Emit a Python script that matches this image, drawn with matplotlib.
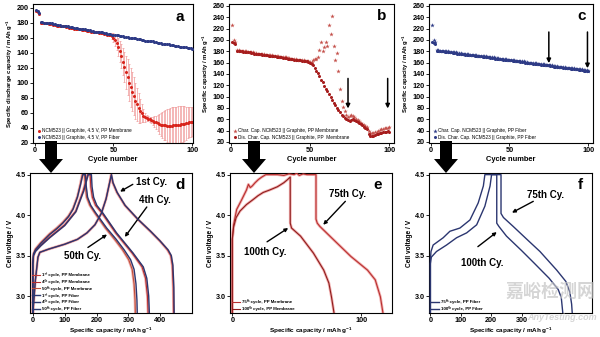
import numpy as np
import matplotlib
matplotlib.use("Agg")
import matplotlib.pyplot as plt
from matplotlib.patches import FancyArrow
from matplotlib.ticker import FormatStrFormatter

plt.rcParams['font.family'] = ['Liberation Sans', 'DejaVu Sans']
plt.rcParams['font.weight'] = 'bold'
plt.rcParams['axes.labelweight'] = 'bold'
plt.rcParams['mathtext.default'] = 'regular'
plt.rcParams['axes.linewidth'] = 0.8

# ---------------- cycling data (cycle 1..100) ----------------
cycles = np.arange(1, 101)

# discharge capacity, NCM523 || graphite with PP fiber separator
fiber_dis = [197, 195, 193, 181, 181, 180, 180, 180, 179, 179,
             179, 178, 178, 177, 177, 177, 176, 176, 176, 175,
             175, 174, 174, 174, 173, 173, 173, 172, 172, 171,
             171, 171, 170, 170, 170, 169, 169, 168, 168, 168,
             167, 167, 167, 166, 166, 165, 165, 165, 164, 164,
             164, 163, 163, 162, 162, 162, 161, 161, 161, 160,
             160, 159, 159, 159, 158, 158, 158, 157, 157, 156,
             156, 156, 155, 155, 155, 154, 154, 153, 153, 153,
             152, 152, 152, 151, 151, 150, 150, 150, 149, 149,
             149, 148, 148, 147, 147, 147, 146, 146, 146, 145]

# charge capacity, PP fiber separator
fiber_char = [226, 199, 196, 182, 182, 181, 181, 181, 180, 180,
              180, 179, 179, 178, 178, 178, 177, 177, 177, 176,
              176, 175, 175, 175, 174, 174, 174, 173, 173, 172,
              172, 172, 171, 171, 171, 170, 170, 169, 169, 169,
              168, 168, 168, 167, 167, 166, 166, 166, 165, 165,
              165, 164, 164, 163, 163, 163, 162, 162, 162, 161,
              161, 160, 160, 160, 159, 159, 159, 158, 158, 157,
              157, 157, 156, 156, 156, 155, 155, 154, 154, 154,
              153, 153, 153, 152, 152, 151, 151, 151, 150, 150,
              150, 149, 149, 148, 148, 148, 147, 147, 147, 146]

# mean discharge capacity with PP membrane and its spread
membrane_mean = [196, 194, 192, 180, 180, 179, 179, 179, 178, 178,
                 178, 177, 177, 176, 176, 176, 175, 175, 175, 174,
                 174, 173, 173, 173, 172, 172, 172, 171, 171, 170,
                 170, 170, 169, 169, 169, 168, 168, 167, 167, 167,
                 166, 166, 166, 165, 165, 164, 164, 164, 162, 160,
                 157, 153, 148, 142, 135, 128, 121, 114, 107, 100,
                 94, 88, 82, 76, 71, 66, 62, 59, 56, 54,
                 53, 52, 51, 50, 49, 48, 47, 46, 45, 44,
                 43.5, 43, 43, 42.5, 42.5, 42.5, 42.5, 43, 43, 43,
                 43.5, 44, 44.5, 45, 45.5, 46, 46.5, 47, 47.5, 48]
membrane_err = [0, 0, 0, 0, 0, 0, 0, 0, 0, 0,
                0, 0, 0, 0, 0, 0, 0, 0, 0, 0,
                0, 0, 0, 0, 0, 0, 0, 0, 0, 0,
                0, 0, 0, 0, 0, 0, 0, 0, 0, 0,
                0, 0, 0, 0, 0, 0, 1, 2, 4, 6,
                8, 10, 12, 14, 16, 18, 20, 22, 24, 25,
                26, 26, 25, 24, 22, 20, 16, 12, 9, 6,
                4, 3, 3, 4, 5, 7, 9, 11, 13, 15,
                17, 19, 20, 22, 23, 24, 25, 25, 25, 25,
                25, 25, 24, 24, 23, 22, 21, 20, 20, 19]

# single PP membrane cell: charge / discharge capacity
memb_dis = [197, 195, 193, 181, 181, 180, 180, 179, 179, 179,
            178, 178, 177, 177, 176, 176, 175, 175, 175, 174,
            174, 173, 173, 172, 172, 172, 171, 171, 170, 170,
            169, 169, 168, 168, 168, 167, 167, 166, 166, 165,
            165, 164, 164, 164, 163, 163, 162, 162, 161, 160,
            158, 155, 151, 146, 141, 136, 130, 125, 119, 114,
            109, 104, 99, 94, 89, 85, 80, 76, 72, 68,
            65, 62, 60, 58, 57, 58, 60, 59, 57, 55,
            53, 51, 49, 47, 45, 42, 34, 31, 30, 31,
            32, 33, 34, 35, 36, 37, 38, 38, 39, 38]
memb_char = [226, 199, 196, 182, 182, 181, 181, 180, 180, 180,
             179, 179, 178, 178, 177, 177, 176, 176, 176, 175,
             175, 174, 174, 173, 173, 173, 172, 172, 171, 171,
             170, 170, 169, 169, 169, 168, 168, 167, 167, 166,
             166, 165, 165, 165, 164, 164, 163, 163, 162, 161,
             161, 164, 166, 167, 169, 182, 196, 181, 188, 197,
             189, 226, 211, 242, 189, 164, 177, 145, 114, 93,
             82, 74, 68, 64, 66, 68, 66, 64, 61, 59,
             56, 54, 52, 50, 48, 46, 40, 36, 35, 36,
             37, 38, 40, 41, 42, 43, 44, 45, 45, 46]

# ---------------- voltage profiles (capacity mAh/g, voltage V) ----------------
# panel d
fib1_q = [0, 8, 16, 22, 50, 100, 140, 170, 195, 215, 230, 240, 247,
          252, 265, 290, 330, 370, 400, 425, 435, 440, 443, 444]
fib1_v = [2.79, 3.20, 3.48, 3.54, 3.58, 3.64, 3.70, 3.78, 3.88, 4.02, 4.20, 4.38, 4.50,
          4.40, 4.28, 4.12, 3.95, 3.80, 3.68, 3.57, 3.50, 3.38, 3.10, 2.79]
mem1_q = [0, 8, 16, 22, 50, 100, 140, 170, 195, 215, 230, 240, 246,
          251, 264, 289, 329, 369, 399, 423, 433, 438, 441, 442]
mem1_v = [2.79, 3.20, 3.48, 3.54, 3.58, 3.64, 3.70, 3.78, 3.88, 4.02, 4.20, 4.38, 4.50,
          4.40, 4.28, 4.12, 3.95, 3.80, 3.68, 3.57, 3.50, 3.38, 3.10, 2.79]
fib4_q = [0, 0, 2, 8, 25, 53, 100, 135, 160, 174, 184,
          186, 191, 201, 221, 263, 315, 347, 358, 364, 366]
fib4_v = [2.79, 3.40, 3.50, 3.55, 3.62, 3.72, 3.87, 4.04, 4.30, 4.50, 4.50,
          4.35, 4.22, 4.12, 4.02, 3.78, 3.53, 3.36, 3.22, 3.00, 2.79]
mem4_q = [0, 0, 2, 8, 25, 53, 100, 135, 158, 172, 180,
          182, 187, 197, 218, 260, 312, 343, 354, 360, 362]
mem4_v = [2.79, 3.40, 3.50, 3.56, 3.63, 3.73, 3.88, 4.05, 4.30, 4.50, 4.50,
          4.35, 4.22, 4.12, 4.02, 3.78, 3.53, 3.36, 3.22, 3.00, 2.79]
fib50_q = [0, 0, 2, 8, 25, 53, 75, 94, 112, 126, 140, 150, 157, 165,
           168, 172, 182, 197, 232, 262, 287, 307, 318, 324, 327, 328]
fib50_v = [2.79, 3.40, 3.52, 3.57, 3.65, 3.76, 3.83, 3.90, 3.98, 4.07, 4.22, 4.38, 4.50, 4.50,
           4.35, 4.22, 4.12, 4.03, 3.84, 3.70, 3.57, 3.45, 3.33, 3.15, 2.95, 2.79]
mem50_q = [0, 0, 2, 8, 25, 53, 75, 94, 112, 126, 140, 149, 155, 162,
           165, 169, 179, 194, 228, 257, 282, 301, 312, 318, 321, 322]
mem50_v = [2.79, 3.40, 3.52, 3.58, 3.66, 3.77, 3.84, 3.91, 3.99, 4.08, 4.23, 4.38, 4.50, 4.50,
           4.35, 4.22, 4.12, 4.03, 3.84, 3.70, 3.57, 3.45, 3.33, 3.15, 2.95, 2.79]

# panel e (PP membrane)
m75_q = [0, 0, 1, 3.4, 7.3, 11, 12.5, 14, 15.5, 17.7, 20.3, 22.9, 26,
         30, 35, 40, 44, 48, 50, 52, 55, 58, 62, 65,
         65, 66, 68, 79, 92, 105, 111, 115, 117]
m75_v = [2.79, 3.70, 3.88, 4.07, 4.19, 4.31, 4.38, 4.34, 4.36, 4.40, 4.44, 4.47, 4.50,
         4.50, 4.50, 4.49, 4.51, 4.50, 4.52, 4.49, 4.51, 4.50, 4.50, 4.50,
         3.95, 3.90, 3.86, 3.69, 3.49, 3.32, 3.20, 2.99, 2.79]
m100_q = [0, 0, 1, 3, 6, 11, 16, 20, 24, 29, 35, 40, 43, 45,
          45, 46, 53, 63, 71, 75, 77, 79]
m100_v = [2.79, 3.70, 3.85, 3.97, 4.05, 4.13, 4.19, 4.24, 4.28, 4.31, 4.35, 4.40, 4.44, 4.47,
          3.90, 3.84, 3.74, 3.53, 3.32, 3.16, 2.99, 2.79]

# panel f (PP fiber)
f75_q = [0, 0, 3, 20, 53, 86, 119, 152, 179, 196, 201, 232,
         232, 240, 272, 320, 360, 415, 445, 458, 464, 466]
f75_v = [2.79, 3.40, 3.48, 3.55, 3.63, 3.72, 3.78, 3.88, 4.11, 4.36, 4.50, 4.50,
         4.02, 3.97, 3.86, 3.69, 3.55, 3.32, 3.18, 3.05, 2.90, 2.79]
f100_q = [0, 0, 2, 9, 42, 64, 97, 130, 157, 174, 179, 218,
          218, 225, 250, 300, 340, 390, 420, 430, 435]
f100_v = [2.79, 3.45, 3.55, 3.63, 3.72, 3.80, 3.84, 3.94, 4.15, 4.36, 4.50, 4.50,
          3.90, 3.86, 3.74, 3.56, 3.41, 3.22, 3.08, 2.98, 2.79]

# ---------------- colours ----------------
RED = '#d8241c'
ERR = '#f09a9a'
NAVY = '#2e3b86'
BCHAR = '#c4504a'
BDIS = '#a61d1d'
LM = '#a82424'
LMH = '#f2b0b0'
LF = '#2b3670'

fig = plt.figure(figsize=(6.0, 3.37), dpi=100)


def style(ax, xlabel, ylabel, ysize=4.3):
    ax.tick_params(direction='out', length=2, width=0.6, labelsize=5.2, pad=1)
    ax.set_xlabel(xlabel, fontsize=5.4, labelpad=1.2)
    ax.set_ylabel(ylabel, fontsize=ysize, labelpad=1.2)


def panel_letter(ax, s, x, y):
    ax.text(x, y, s, transform=ax.transAxes, fontsize=11, fontweight='bold',
            ha='center', va='center')


def arrow(ax, xy, xytext, lw=1.1, ms=6):
    ax.annotate('', xy=xy, xytext=xytext,
                arrowprops=dict(arrowstyle='-|>', color='k', lw=lw,
                                mutation_scale=ms, shrinkA=0, shrinkB=0))


def small_legend(ax, size=3.2):
    ax.legend(loc='lower left', frameon=False, handletextpad=0.4,
              borderaxespad=0.2, borderpad=0.2, labelspacing=0.4,
              handlelength=1.8, handleheight=0.5,
              prop={'size': size, 'weight': 'bold'})


def marker_legend(ax):
    ax.legend(loc='lower left', frameon=False, handletextpad=0.2,
              borderaxespad=0.3, labelspacing=0.3, handlelength=1.0,
              prop={'size': 3.4, 'weight': 'normal'})


# ---------------- a ----------------
axa = fig.add_axes([0.055, 0.5757, 0.2667, 0.4125])
err = np.array(membrane_err)
mean = np.array(membrane_mean)
sel = err > 0
axa.errorbar(cycles[sel], mean[sel], yerr=err[sel], fmt='none', ecolor=ERR,
             elinewidth=0.5, capsize=1.0, capthick=0.5, zorder=1)
axa.plot(cycles, mean, 'o', ms=2.2, color=RED, mew=0, zorder=2,
         label='NCM523 || Graphite, 4.5 V, PP Membrane')
axa.plot(cycles, fiber_dis, 'o', ms=2.2, color=NAVY, mew=0, zorder=3,
         label='NCM523 || Graphite, 4.5 V, PP Fiber')
axa.set_xlim(-1, 100.5)
axa.set_ylim(19.5, 205)
axa.set_xticks([0, 50, 100])
axa.set_yticks(range(20, 201, 20))
style(axa, 'Cycle number', 'Specific discharge capacity / mAh g$^{-1}$')
marker_legend(axa)
panel_letter(axa, 'a', 0.92, 0.905)

# ---------------- b ----------------
axb = fig.add_axes([0.3817, 0.5757, 0.275, 0.4125])
axb.plot(cycles, memb_char, '*', ms=3.4, color=BCHAR, mew=0,
         label='Char. Cap. NCM523 || Graphite, PP Membrane')
axb.plot(cycles, memb_dis, 'o', ms=2.2, color=BDIS, mew=0,
         label='Dis. Char. Cap. NCM523 || Graphite, PP  Membrane')
axb.set_xlim(-1, 103)
axb.set_ylim(18, 263.5)
axb.set_xticks([0, 50, 100])
axb.set_yticks(range(20, 261, 20))
style(axb, 'Cycle number', 'Specific capacity / mAh g$^{-1}$')
marker_legend(axb)
arrow(axb, (74, 79), (74, 132))
arrow(axb, (99, 79), (99, 132))
panel_letter(axb, 'b', 0.925, 0.915)

# ---------------- c ----------------
axc = fig.add_axes([0.715, 0.5757, 0.2733, 0.4125])
axc.plot(cycles, fiber_char, '*', ms=3.4, color=NAVY, mew=0,
         label='Char. Cap. NCM523 || Graphite, PP Fiber')
axc.plot(cycles, fiber_dis, 'o', ms=2.2, color=NAVY, mew=0,
         label='Dis. Char. Cap. NCM523 || Graphite, PP Fiber')
axc.set_xlim(-1, 103)
axc.set_ylim(18, 263.5)
axc.set_xticks([0, 50, 100])
axc.set_yticks(range(20, 261, 20))
style(axc, 'Cycle number', 'Specific capacity / mAh g$^{-1}$')
marker_legend(axc)
arrow(axc, (75, 159), (75, 214))
arrow(axc, (99.5, 150), (99.5, 214))
panel_letter(axc, 'c', 0.93, 0.915)


def memb_line(ax, q, v, label, color=LM):
    ax.plot(q, v, color=LMH, lw=2.0, solid_capstyle='butt', zorder=2)
    ax.plot(q, v, color=color, lw=0.8, zorder=3, label=label)


def fib_line(ax, q, v, label):
    ax.plot(q, v, color=LF, lw=1.0, zorder=4, label=label)


def volt_axes(ax, xticks):
    ax.set_ylim(2.79, 4.52)
    ax.set_yticks([3.0, 3.5, 4.0, 4.5])
    ax.yaxis.set_major_formatter(FormatStrFormatter('%.1f'))
    ax.set_xticks(xticks)
    style(ax, 'Specific capacity / mAh g$^{-1}$', 'Cell voltage / V', ysize=4.8)
    ax.xaxis.label.set_size(4.6)


# ---------------- d ----------------
axd = fig.add_axes([0.05, 0.0712, 0.27, 0.4154])
memb_line(axd, mem1_q, mem1_v, '1ˢᵗ cycle, PP Membrane', color='#c23a35')
memb_line(axd, mem4_q, mem4_v, '4ᵗʰ cycle, PP Membrane', color='#b52d2d')
memb_line(axd, mem50_q, mem50_v, '50ᵗʰ cycle, PP Membrane', color='#c0503a')
fib_line(axd, fib1_q, fib1_v, '1ˢᵗ cycle, PP Fiber')
fib_line(axd, fib4_q, fib4_v, '4ᵗʰ cycle, PP Fiber')
fib_line(axd, fib50_q, fib50_v, '50ᵗʰ cycle, PP Fiber')
axd.set_xlim(-9, 500)
volt_axes(axd, [0, 100, 200, 300, 400])
small_legend(axd)
axd.text(374, 4.41, '1st Cy.', fontsize=7, fontweight='bold', ha='center', va='center')
arrow(axd, (274, 4.29), (314, 4.38), lw=1.0, ms=5)
axd.text(384, 4.19, '4th Cy.', fontsize=7, fontweight='bold', ha='center', va='center')
arrow(axd, (289, 3.73), (358, 4.10), lw=1.0, ms=5)
axd.text(157, 3.50, '50th Cy.', fontsize=7, fontweight='bold', ha='center', va='center')
arrow(axd, (233, 3.76), (173, 3.60), lw=1.0, ms=5)
panel_letter(axd, 'd', 0.926, 0.914)

# ---------------- e ----------------
axe = fig.add_axes([0.3833, 0.0712, 0.27, 0.4154])
memb_line(axe, m75_q, m75_v, '75ᵗʰ cycle, PP Membrane', color='#b83030')
memb_line(axe, m100_q, m100_v, '100ᵗʰ cycle, PP Membrane', color='#8e1c1c')
axe.set_xlim(-1.8, 124)
volt_axes(axe, [0, 100])
small_legend(axe)
axe.text(89.3, 4.26, '75th Cy.', fontsize=7, fontweight='bold', ha='center', va='center')
arrow(axe, (70.6, 3.88), (87.8, 4.17), lw=1.0, ms=5)
axe.text(25.5, 3.55, '100th Cy.', fontsize=7, fontweight='bold', ha='center', va='center')
arrow(axe, (43.4, 3.84), (27, 3.67), lw=1.0, ms=5)
panel_letter(axe, 'e', 0.914, 0.914)

# ---------------- f ----------------
axf = fig.add_axes([0.715, 0.0712, 0.2717, 0.4154])
fib_line(axf, f75_q, f75_v, '75ᵗʰ cycle, PP Fiber')
fib_line(axf, f100_q, f100_v, '100ᵗʰ cycle, PP Fiber')
axf.set_xlim(-4.6, 531)
volt_axes(axf, [0, 100, 200, 300])
small_legend(axf)
axf.text(380, 4.25, '75th Cy.', fontsize=7, fontweight='bold', ha='center', va='center')
arrow(axf, (268, 4.03), (338, 4.17), lw=1.0, ms=5)
axf.text(169, 3.41, '100th Cy.', fontsize=7, fontweight='bold', ha='center', va='center')
arrow(axf, (218, 3.79), (156, 3.61), lw=1.0, ms=5)
panel_letter(axf, 'f', 0.926, 0.914)

# ---------------- big arrows linking the two rows ----------------
for xc in (51, 254, 446):
    fig.add_artist(FancyArrow(xc / 600, 1 - 141 / 337, 0, -(32 / 337),
                              width=12 / 600, head_width=24 / 600,
                              head_length=14 / 337, length_includes_head=True,
                              transform=fig.transFigure, color='k', lw=0))

# site watermark
fig.text(0.917, 0.134, '嘉峪检测网', fontsize=13, color='#c4c4c4', alpha=0.7,
         family=['Noto Sans CJK SC', 'DejaVu Sans'], ha='center', va='center')
fig.text(0.937, 0.058, 'AnyTesting.com', fontsize=6.5, color='#c4c4c4', alpha=0.7,
         style='italic', ha='center', va='center')

fig.savefig('out.png', dpi=100)
